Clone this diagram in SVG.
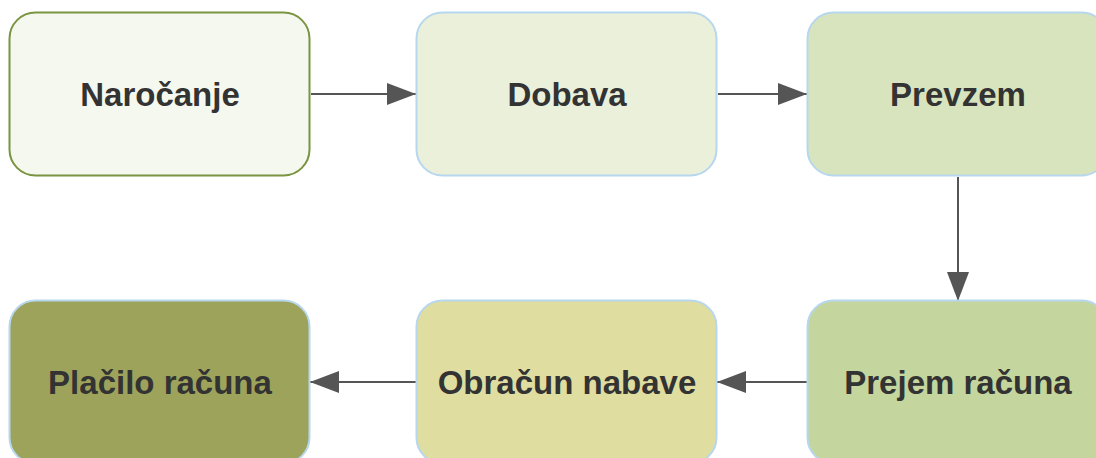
<svg xmlns="http://www.w3.org/2000/svg" width="1096" height="458" viewBox="0 0 1096 458">
<style>
.box{stroke:#b6d7ee;stroke-width:2}
.lbl{font-family:"Liberation Sans",Arial,sans-serif;font-weight:bold;font-size:33px;fill:#333333;text-anchor:middle;dominant-baseline:central}
.con{stroke:#555555;stroke-width:2;fill:none;marker-end:url(#ahb)}
</style>
<defs>
<marker id="ahb" viewBox="0 0 29 22" refX="29" refY="11" markerWidth="29" markerHeight="22" orient="auto" markerUnits="userSpaceOnUse">
<path d="M0,0 L29,11 L0,22 Z" fill="#555555"/>
</marker>
</defs>
<rect width="1096" height="458" fill="#ffffff"/>
<g id="connectors">
<line class="con" x1="311" y1="94" x2="416" y2="94"/>
<line class="con" x1="718" y1="94" x2="807" y2="94"/>
<line class="con" x1="958" y1="177" x2="958" y2="301"/>
<line class="con" x1="807" y1="382" x2="717" y2="382"/>
<line class="con" x1="416" y1="382" x2="310" y2="382"/>
</g>
<g id="n1">
<rect x="9.5" y="12.5" width="300" height="163" rx="26" fill="#f5f8ee" stroke="#7a9442" stroke-width="2"/>
<text class="lbl" x="160" y="94">Naročanje</text>
</g>
<g id="n2">
<rect class="box" x="416.5" y="12.5" width="300" height="163" rx="26" fill="#ebf0db"/>
<text class="lbl" x="567" y="94">Dobava</text>
</g>
<g id="n3">
<rect class="box" x="807.5" y="12.5" width="300" height="163" rx="26" fill="#d8e4bd"/>
<text class="lbl" x="958" y="94">Prevzem</text>
</g>
<g id="n4">
<rect class="box" x="807.5" y="300.5" width="300" height="163" rx="26" fill="#c4d69d"/>
<text class="lbl" x="958" y="382">Prejem računa</text>
</g>
<g id="n5">
<rect class="box" x="416.5" y="300.5" width="300" height="163" rx="26" fill="#dfdda0"/>
<text class="lbl" x="567" y="382">Obračun nabave</text>
</g>
<g id="n6">
<rect class="box" x="9.5" y="300.5" width="300" height="163" rx="26" fill="#9da35b"/>
<text class="lbl" x="160" y="382">Plačilo računa</text>
</g>
</svg>
